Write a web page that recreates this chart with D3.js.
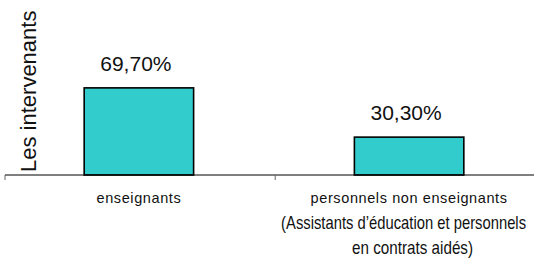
<!DOCTYPE html>
<html>
<head>
<meta charset="utf-8">
<script src="https://cdn.jsdelivr.net/npm/d3@7"></script>
<style>
  html, body { margin: 0; padding: 0; background: #fff; }
  svg { display: block; }
</style>
</head>
<body>
<div id="chart"></div>
<script>
// data
var categories = ['enseignants', 'personnels non enseignants']
var values = [69.7, 30.3]
var valueLabels = ['69,70%', '30,30%']
var subLabels = ['(Assistants d\u2019éducation et personnels', 'en contrats aidés)']

var width = 534, height = 258
var baseY = 175

var svg = d3.select('#chart').append('svg')
    .attr('width', width)
    .attr('height', height)
    .style('font-family', 'Arial, "Liberation Sans", sans-serif')

var x = d3.scaleBand()
    .domain(categories)
    .range([5, 543])
    .paddingInner(0.595)
    .paddingOuter(0.293)

var y = d3.scaleLinear()
    .domain([0, 80])
    .range([baseY, baseY - 100])

// bars
svg.selectAll('rect.bar')
    .data(values)
    .enter().append('rect')
    .attr('class', 'bar')
    .attr('x', (d, i) => x(categories[i]))
    .attr('y', d => y(d))
    .attr('width', x.bandwidth())
    .attr('height', d => y(0) - y(d))
    .style('fill', '#33CCCC')
    .style('stroke', '#000')
    .style('stroke-width', 1.6)

// value labels
svg.selectAll('text.val')
    .data(values)
    .enter().append('text')
    .attr('class', 'val')
    .attr('x', (d, i) => x(categories[i]) + x.bandwidth() / 2 - 3)
    .attr('y', d => y(d) - 17)
    .attr('text-anchor', 'middle')
    .style('font-size', '21px')
    .style('fill', '#111')
    .text((d, i) => valueLabels[i])

// axis line + ticks at band boundaries
svg.append('line')
    .attr('x1', 5).attr('x2', width)
    .attr('y1', baseY).attr('y2', baseY)
    .style('stroke', '#000')
    .style('stroke-width', 1)

var r0 = x.range()[0]
d3.range(categories.length + 1).forEach(function(i) {
    var tx = r0 + i * x.step()
    svg.append('line')
        .attr('x1', tx).attr('x2', tx)
        .attr('y1', baseY).attr('y2', baseY + 5)
        .style('stroke', '#666')
        .style('stroke-width', 1)
})

// category labels
categories.forEach(function(c, i) {
    svg.append('text')
        .attr('x', x(c) + x.bandwidth() / 2)
        .attr('y', 203)
        .attr('text-anchor', 'middle')
        .style('font-size', '14.5px')
        .style('letter-spacing', '0.6px')
        .style('fill', '#111')
        .text(c)
})

// condensed sub-label lines, squeezed horizontally to the wanted width
var cx2 = x(categories[1]) + x.bandwidth() / 2
function narrowText(str, left, baseline, w)
{
    var t = svg.append('text')
        .attr('x', 0)
        .attr('y', 0)
        .style('font-size', '18px')
        .style('fill', '#111')
        .text(str)
    var k = w / t.node().getComputedTextLength()
    t.attr('transform', `translate(${left},${baseline}) scale(${k},1)`)
}
narrowText(subLabels[0], cx2 - 128, 229, 245)
narrowText(subLabels[1], cx2 - 57, 254, 121)

// y title
svg.append('text')
    .attr('transform', 'translate(36,172) rotate(-90)')
    .attr('text-anchor', 'start')
    .style('font-size', '22px')
    .style('fill', '#111')
    .text('Les intervenants')
</script>
</body>
</html>
